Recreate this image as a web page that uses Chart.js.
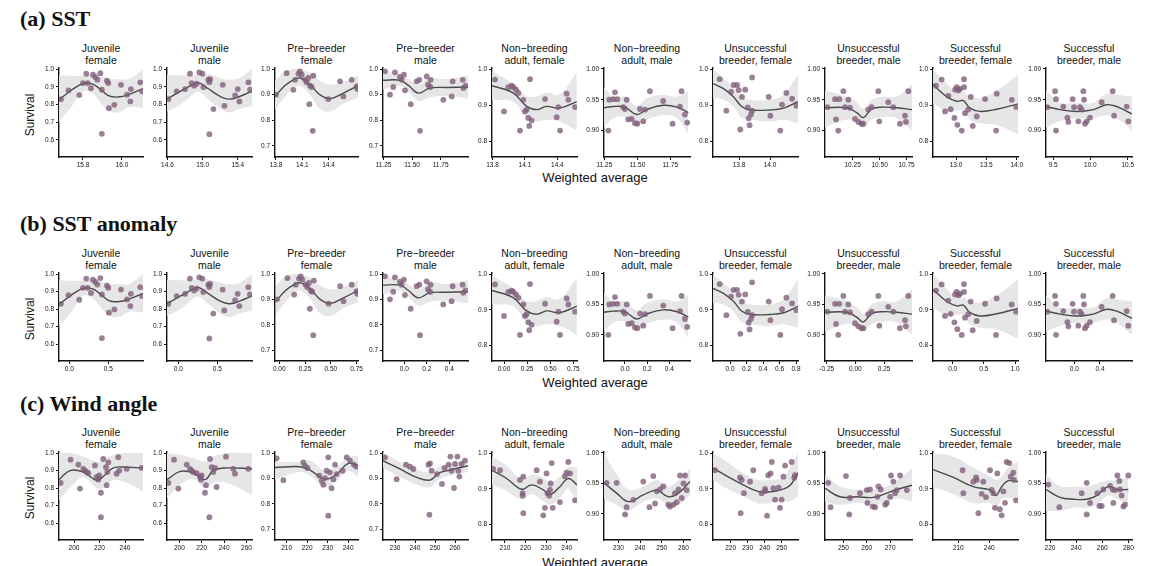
<!DOCTYPE html>
<html><head><meta charset="utf-8">
<script src="https://cdn.jsdelivr.net/npm/chart.js@4.4.1/dist/chart.umd.min.js"></script>
<style>
body{margin:0;background:#fff;width:1150px;height:566px;overflow:hidden;position:relative;font-family:"Liberation Sans",Arial,sans-serif;}
.sec{position:absolute;left:20px;font-family:"Liberation Serif","Times New Roman",serif;font-weight:bold;font-size:22px;line-height:22px;color:#111;white-space:nowrap;}
.pt{position:absolute;text-align:center;font-size:10.5px;line-height:11.5px;color:#111;white-space:nowrap;}
.xl{position:absolute;font-size:13px;line-height:13px;color:#111;width:200px;text-align:center;white-space:nowrap;}
.yl{position:absolute;font-size:12px;line-height:12px;color:#111;transform:rotate(-90deg);width:60px;text-align:center;}
canvas{position:absolute;}
</style></head><body>
<script>
// ---------- text ----------
const SECTIONS = ["(a) SST", "(b) SST anomaly", "(c) Wind angle"];
const TITLES = [["Juvenile","female"],["Juvenile","male"],["Pre\u2212breeder","female"],["Pre\u2212breeder","male"],
  ["Non\u2212breeding","adult, female"],["Non\u2212breeding","adult, male"],["Unsuccessful","breeder, female"],
  ["Unsuccessful","breeder, male"],["Successful","breeder, female"],["Successful","breeder, male"]];
const X_TITLE = "Weighted average";
const Y_TITLE = "Survival";

// ---------- y axes (per column) ----------
const yRange = [[0.503,1.006],[0.503,1.006],[0.657,1.004],[0.657,1.004],[0.757,1.003],[0.857,1.0016],[0.757,1.003],[0.857,1.0016],[0.757,1.003],[0.857,1.0016]];
const yTicks = [[0.6,0.7,0.8,0.9,1.0],[0.6,0.7,0.8,0.9,1.0],[0.7,0.8,0.9,1.0],[0.7,0.8,0.9,1.0],[0.8,0.9,1.0],[0.90,0.95,1.00],[0.8,0.9,1.0],[0.90,0.95,1.00],[0.8,0.9,1.0],[0.90,0.95,1.00]];
const yTickLabels = [["0.6","0.7","0.8","0.9","1.0"],["0.6","0.7","0.8","0.9","1.0"],["0.7","0.8","0.9","1.0"],["0.7","0.8","0.9","1.0"],["0.8","0.9","1.0"],["0.90","0.95","1.00"],["0.8","0.9","1.0"],["0.90","0.95","1.00"],["0.8","0.9","1.0"],["0.90","0.95","1.00"]];

// ---------- x axes ----------
const sstRange = [[15.677,16.108],[14.595,15.56],[13.789,14.737],[11.245,11.99],[13.795,14.582],[11.247,11.899],[13.632,14.18],[9.994,10.80],[12.621,14.02],[9.406,10.557]];
const sstTicks = [[15.8,16.0],[14.6,15.0,15.4],[13.8,14.1,14.4],[11.25,11.5,11.75],[13.8,14.1,14.4],[11.25,11.5,11.75],[13.8,14.0],[10.25,10.5,10.75],[13.0,13.5,14.0],[9.5,10.0,10.5]];
const sstTickLabels = [["15.8","16.0"],["14.6","15.0","15.4"],["13.8","14.1","14.4"],["11.25","11.50","11.75"],["13.8","14.1","14.4"],["11.25","11.50","11.75"],["13.8","14.0"],["10.25","10.50","10.75"],["13.0","13.5","14.0"],["9.5","10.0","10.5"]];
const anomRange = [[-0.132,0.945],[-0.145,0.945],[-0.041,0.764],[-0.19,0.566],[-0.13,0.79],[-0.189,0.586],[-0.206,0.824],[-0.265,0.494],[-0.316,1.048],[-0.441,0.899]];
const anomTicks = [[0,0.5],[0,0.5],[0,0.25,0.5,0.75],[0,0.2,0.4],[0,0.25,0.5,0.75],[0,0.2,0.4],[0,0.2,0.4,0.6,0.8],[-0.25,0,0.25],[0,0.5,1.0],[0,0.4]];
const anomTickLabels = [["0.0","0.5"],["0.0","0.5"],["0.00","0.25","0.50","0.75"],["0.0","0.2","0.4"],["0.00","0.25","0.50","0.75"],["0.0","0.2","0.4"],["0.0","0.2","0.4","0.6","0.8"],["-0.25","0.00","0.25"],["0.0","0.5","1.0"],["0.0","0.4"]];
const windRange = [[188.2,254.1],[189,264.9],[204.3,244.8],[224,266.5],[203.7,245.0],[223.4,263.0],[209.6,259.6],[242.1,279.4],[185.5,267.8],[216.9,282.8]];
const windTicks = [[200,220,240],[200,220,240,260],[210,220,230,240],[230,240,250,260],[210,220,230,240],[230,240,250,260],[220,230,240,250],[250,260,270],[210,240],[220,240,260,280]];

// ---------- survival estimates (rows a & b share the same estimates) ----------
const surv1 = [0.83,0.879,0.853,0.921,0.974,0.921,0.892,0.968,0.955,0.94,0.977,0.883,0.934,0.921,0.779,0.798,0.634,0.911,0.855,0.887,0.817,0.925,0.874];
const surv2 = [0.83,0.874,0.887,0.974,0.921,0.906,0.917,0.981,0.974,0.898,0.94,0.926,0.943,0.632,0.774,0.911,0.792,0.851,0.887,0.817,0.925,0.883];
const surv3 = [0.90,0.984,0.919,0.958,0.982,0.991,0.978,0.958,0.948,0.965,0.935,0.93,0.974,0.863,0.759,0.883,0.952,0.893,0.958,0.932,0.922];
const surv4 = [0.991,0.90,0.93,0.987,0.969,0.958,0.978,0.917,0.863,0.952,0.958,0.759,0.971,0.939,0.93,0.958,0.88,0.893,0.952,0.958,0.926,0.935];
const surv5 = [0.971,0.883,0.95,0.954,0.95,0.943,0.934,0.83,0.915,0.883,0.888,0.865,0.843,0.972,0.858,0.917,0.867,0.895,0.83,0.932,0.915,0.895];
const surv6 = [0.90,0.95,0.951,0.962,0.951,0.938,0.935,0.95,0.918,0.919,0.912,0.911,0.935,0.915,0.934,0.964,0.948,0.911,0.939,0.964,0.926,0.913];
const surv7 = [0.972,0.885,0.937,0.956,0.956,0.942,0.923,0.833,0.943,0.894,0.864,0.845,0.977,0.885,0.875,0.923,0.871,0.83,0.934,0.902,0.918,0.899];
const surv8 = [0.938,0.951,0.918,0.90,0.951,0.964,0.938,0.95,0.937,0.919,0.914,0.911,0.911,0.934,0.938,0.964,0.915,0.946,0.938,0.911,0.924,0.914,0.964];
const surv9 = [0.954,0.971,0.883,0.926,0.889,0.865,0.943,0.95,0.846,0.941,0.945,0.83,0.972,0.95,0.878,0.888,0.923,0.843,0.869,0.917,0.932,0.83,0.915,0.895];
const surv10 = [0.938,0.964,0.951,0.90,0.939,0.921,0.914,0.951,0.938,0.915,0.938,0.934,0.964,0.95,0.911,0.915,0.921,0.946,0.964,0.924,0.939,0.915];

// row (a) SST covariate
const sstX1 = [15.687,15.726,15.781,15.80,15.817,15.824,15.841,15.851,15.863,15.874,15.889,15.897,15.923,15.93,15.933,15.961,15.897,15.995,16.026,16.046,16.043,16.094,16.103];
const sstX2 = [14.61,14.705,14.80,14.856,14.875,14.902,14.932,14.962,14.997,15.008,15.065,15.076,15.084,15.076,15.122,15.228,15.247,15.368,15.398,15.417,15.519,15.538];
const sstX3 = [13.80,13.922,13.999,14.018,14.056,14.075,14.094,14.132,14.151,14.17,14.189,14.208,14.227,14.181,14.22,14.398,14.532,14.57,14.665,14.722,14.73];
const sstX4 = [11.263,11.306,11.335,11.35,11.394,11.409,11.429,11.438,11.488,11.54,11.564,11.57,11.628,11.64,11.66,11.663,11.774,11.847,11.856,11.944,11.95,11.97];
const sstX5 = [13.823,13.906,13.946,13.977,13.993,14.017,14.039,14.054,14.085,14.10,14.116,14.131,14.14,14.147,14.162,14.286,14.394,14.409,14.425,14.486,14.502,14.564];
const sstX6 = [11.28,11.287,11.318,11.33,11.348,11.393,11.406,11.419,11.431,11.457,11.482,11.50,11.52,11.545,11.558,11.595,11.696,11.767,11.823,11.835,11.86,11.878];
const sstX7 = [13.675,13.718,13.748,13.765,13.787,13.798,13.819,13.808,13.84,13.856,13.862,13.868,13.884,13.884,13.877,13.991,14.002,14.066,14.105,14.077,14.142,14.17];
const sstX8 = [10.016,10.087,10.096,10.117,10.127,10.164,10.179,10.21,10.225,10.272,10.303,10.333,10.349,10.395,10.426,10.488,10.497,10.58,10.627,10.688,10.735,10.744,10.766];
const sstX9 = [12.67,12.764,12.819,12.874,12.912,12.973,12.984,13.011,13.022,13.039,13.066,13.094,13.132,13.132,13.148,13.2,13.242,13.275,13.341,13.478,13.67,13.66,13.918,13.99];
const sstX10 = [9.424,9.527,9.54,9.54,9.638,9.692,9.705,9.763,9.781,9.839,9.861,9.884,9.906,9.915,9.928,9.951,9.995,10.151,10.299,10.317,10.486,10.508];

// row (b) SST anomaly covariate
const anomX1 = [-0.107,-0.01,0.128,0.176,0.218,0.236,0.278,0.303,0.333,0.36,0.398,0.418,0.483,0.50,0.508,0.578,0.418,0.663,0.74,0.79,0.783,0.91,0.933];
const anomX2 = [-0.128,-0.021,0.086,0.149,0.171,0.201,0.235,0.269,0.308,0.321,0.385,0.398,0.407,0.398,0.449,0.569,0.59,0.727,0.761,0.782,0.897,0.919];
const anomX3 = [-0.022,0.08,0.145,0.161,0.192,0.208,0.224,0.256,0.272,0.288,0.304,0.32,0.336,0.297,0.33,0.479,0.591,0.623,0.703,0.75,0.757];
const anomX4 = [-0.172,-0.128,-0.099,-0.084,-0.039,-0.024,-0.004,0.005,0.056,0.109,0.133,0.139,0.198,0.21,0.23,0.233,0.346,0.42,0.429,0.518,0.524,0.544];
const anomX5 = [-0.097,0.0,0.047,0.083,0.101,0.13,0.155,0.173,0.209,0.227,0.245,0.263,0.273,0.281,0.299,0.444,0.57,0.588,0.606,0.678,0.696,0.769];
const anomX6 = [-0.15,-0.141,-0.105,-0.09,-0.069,-0.015,0.0,0.016,0.03,0.061,0.09,0.112,0.136,0.165,0.181,0.225,0.345,0.429,0.496,0.51,0.54,0.561];
const anomX7 = [-0.125,-0.044,0.012,0.044,0.085,0.106,0.145,0.125,0.185,0.215,0.226,0.237,0.268,0.268,0.254,0.469,0.489,0.61,0.683,0.63,0.752,0.805];
const anomX8 = [-0.244,-0.177,-0.169,-0.149,-0.14,-0.105,-0.091,-0.062,-0.047,-0.003,0.026,0.054,0.069,0.113,0.142,0.20,0.209,0.287,0.331,0.388,0.433,0.441,0.462];
const anomX9 = [-0.268,-0.177,-0.123,-0.07,-0.033,0.027,0.038,0.064,0.075,0.091,0.117,0.145,0.182,0.182,0.197,0.248,0.289,0.321,0.385,0.519,0.706,0.696,0.947,1.017];
const anomX10 = [-0.42,-0.30,-0.285,-0.285,-0.171,-0.108,-0.093,-0.026,-0.005,0.063,0.088,0.115,0.141,0.151,0.166,0.193,0.244,0.426,0.598,0.619,0.816,0.841];

// row (c) wind angle covariate and survival
const windX1 = [189.5,197.3,204.7,203.4,207.3,208.6,209.9,211.2,216.4,217.7,219.0,219.8,221.1,221.1,222.9,225.1,225.6,226.1,226.9,233.4,234.7,235.5,241.3,253.0];
const survW1 = [0.829,0.962,0.797,0.934,0.91,0.90,0.891,0.885,0.929,0.863,0.848,0.872,0.773,0.633,0.966,0.919,0.816,0.891,0.947,0.882,0.976,0.90,0.91,0.915];
const windX2 = [190.2,195.3,199.1,206.6,209.5,211.0,212.5,215.5,218.5,219.4,220.0,222.9,226.8,227.4,223.8,228.9,230.4,231.9,233.3,241.7,248.2,249.7,261.6];
const survW2 = [0.829,0.962,0.797,0.934,0.91,0.90,0.891,0.885,0.863,0.848,0.872,0.773,0.633,0.966,0.816,0.919,0.891,0.915,0.806,0.979,0.91,0.882,0.91];
const windX3 = [205.1,208.4,218.1,218.9,220.1,225.9,227.1,227.9,228.7,229.5,230.3,230.3,231.1,231.9,232.8,233.6,234.4,237.3,239.3,240.9,242.8,244.1];
const survW3 = [0.979,0.893,0.963,0.95,0.941,0.911,0.891,0.875,0.901,0.93,0.983,0.753,0.924,0.861,0.897,0.954,0.917,0.93,0.983,0.97,0.954,0.946];
const windX4 = [225,230.8,235.5,237.5,239.2,246.7,247.5,247.2,248.3,251,253.5,254.8,256.8,257.7,258.3,259.5,260,261.2,261.7,262.2,263.3,265];
const survW4 = [0.983,0.897,0.954,0.946,0.937,0.954,0.959,0.757,0.93,0.917,0.878,0.941,0.954,0.986,0.93,0.862,0.957,0.986,0.93,0.907,0.957,0.97];
const windX5 = [204.3,207.6,217.3,218.9,218.6,218.6,218.9,225.4,227.0,228.6,229.4,230.2,230.7,231.5,231.9,232.2,232.7,233.2,236.7,239.1,239.9,240.8,241.6,244];
const survW5 = [0.956,0.952,0.925,0.934,0.888,0.881,0.832,0.952,0.92,0.826,0.847,0.943,0.888,0.881,0.897,0.915,0.972,0.847,0.863,0.935,0.945,0.975,0.943,0.868];
const windX6 = [224.6,229.2,233.8,233.1,236.9,241.5,244.3,246.1,246.9,247.7,249.2,250.7,253,253.8,255.3,256.1,256.9,257.7,258.4,259.2,260,260.7,261.5];
const survW6 = [0.951,0.951,0.911,0.899,0.923,0.953,0.911,0.962,0.917,0.937,0.94,0.945,0.915,0.912,0.915,0.934,0.919,0.94,0.963,0.926,0.95,0.963,0.939];
const windX7 = [210.8,225.5,226.5,227.8,225.9,231.4,233.3,238.2,240.2,242.1,241.4,244.2,243.5,245.1,246.1,251,252,250,249,255.9,257.8,240.4,248.2,257.4];
const survW7 = [0.952,0.932,0.925,0.888,0.832,0.92,0.952,0.888,0.90,0.938,0.825,0.975,0.943,0.902,0.87,0.934,0.965,0.87,0.847,0.975,0.938,0.894,0.903,0.931];
const windX8 = [243.5,244.5,251.1,252.5,252.8,257.1,260.3,260,261.4,262.6,263.6,265,264.6,266,267.9,268.6,270,270.4,271.4,272.1,272.9,274.3,277.2];
const survW8 = [0.951,0.911,0.962,0.899,0.926,0.934,0.918,0.939,0.94,0.912,0.911,0.945,0.928,0.94,0.915,0.918,0.928,0.963,0.953,0.934,0.939,0.963,0.939];
const windX9 = [214.2,214.9,224.5,227.1,227.8,229.4,232.6,234.2,236.8,240.7,242.3,243.9,245.5,247.8,250.3,252,253.6,255.2,256.8,259.4,260.7,263.2,263.9,265.8];
const survW9 = [0.952,0.888,0.92,0.932,0.925,0.832,0.886,0.92,0.877,0.952,0.897,0.888,0.847,0.943,0.843,0.826,0.893,0.861,0.975,0.972,0.934,0.945,0.925,0.868];
const windX10 = [218.7,227.1,244.2,248.1,248.1,250.6,256.2,257.8,259.6,260.8,266,268,268.5,269.8,271.6,273.1,273.6,274.9,276.2,277.4,280];
const survW10 = [0.948,0.911,0.934,0.951,0.899,0.918,0.934,0.913,0.913,0.94,0.946,0.94,0.918,0.939,0.963,0.954,0.94,0.93,0.912,0.915,0.963];

// ---------- smooth fits with confidence bands ----------
const knotA1=[15.677,15.74,15.8,15.85,15.89,15.93,15.98,16.04,16.108], knotB1=[-0.132,0.026,0.176,0.30,0.40,0.50,0.626,0.776,0.946];
const fit1=[0.826,0.88,0.918,0.915,0.885,0.85,0.842,0.858,0.89], hi1=[0.965,0.962,0.962,0.966,0.96,0.945,0.942,0.945,1.0], lo1=[0.70,0.785,0.875,0.86,0.81,0.765,0.755,0.785,0.78];
const knotA2=[14.595,14.75,14.9,14.96,15.06,15.2,15.3,15.42,15.56], knotB2=[-0.145,0.03,0.198,0.267,0.38,0.538,0.65,0.786,0.944];
const fit2=[0.83,0.875,0.915,0.922,0.89,0.845,0.83,0.845,0.875], hi2=[0.968,0.965,0.965,0.968,0.97,0.95,0.94,0.95,1.0], lo2=[0.76,0.80,0.86,0.87,0.83,0.775,0.755,0.775,0.79];
const knotA3=[13.789,13.9,14.0,14.075,14.19,14.3,14.418,14.57,14.737], knotB3=[-0.031,0.062,0.146,0.208,0.305,0.397,0.496,0.623,0.763];
const fit3=[0.893,0.935,0.958,0.965,0.939,0.90,0.884,0.906,0.935], hi3=[0.955,0.99,1.0,1.0,0.985,0.955,0.94,0.95,0.975], lo3=[0.84,0.89,0.925,0.935,0.9,0.845,0.835,0.865,0.89];
const knotA4=[11.245,11.394,11.47,11.555,11.657,11.80,11.99], knotB4=[-0.19,-0.039,0.037,0.124,0.227,0.372,0.565];
const fit4=[0.956,0.956,0.935,0.906,0.926,0.928,0.93], hi4=[0.99,0.98,0.96,0.94,0.965,0.96,0.975], lo4=[0.92,0.935,0.91,0.875,0.89,0.895,0.885];
const knotA5=[13.795,13.99,14.116,14.21,14.3,14.42,14.58], knotB5=[-0.13,0.098,0.245,0.355,0.46,0.601,0.788];
const fit5=[0.954,0.934,0.897,0.888,0.897,0.892,0.91], hi5=[0.995,0.96,0.925,0.925,0.935,0.93,0.99], lo5=[0.915,0.91,0.865,0.855,0.86,0.855,0.83];
const knotA6=[11.247,11.318,11.406,11.495,11.57,11.696,11.80,11.886], knotB6=[-0.189,-0.105,0.0,0.106,0.195,0.345,0.469,0.571];
const fit6=[0.937,0.939,0.938,0.926,0.934,0.941,0.938,0.929], hi6=[0.97,0.955,0.955,0.94,0.952,0.958,0.955,0.965], lo6=[0.905,0.92,0.922,0.91,0.918,0.925,0.92,0.895];
const knotA7=[13.632,13.70,13.765,13.819,13.873,14.0,14.088,14.18], knotB7=[-0.206,-0.078,0.044,0.145,0.247,0.485,0.651,0.824];
const fit7=[0.96,0.946,0.923,0.896,0.887,0.887,0.892,0.91], hi7=[1.0,0.975,0.95,0.925,0.915,0.915,0.93,0.985], lo7=[0.92,0.915,0.895,0.865,0.86,0.855,0.86,0.85];
const knotA8=[9.994,10.195,10.288,10.349,10.426,10.534,10.658,10.80], knotB8=[-0.265,-0.076,0.012,0.069,0.142,0.243,0.36,0.494];
const fit8=[0.937,0.937,0.929,0.921,0.935,0.938,0.937,0.934], hi8=[0.965,0.955,0.945,0.935,0.95,0.955,0.955,0.975], lo8=[0.905,0.918,0.912,0.905,0.918,0.922,0.92,0.9];
const knotA9=[12.621,12.846,13.011,13.121,13.23,13.396,13.67,14.02], knotB9=[-0.316,-0.097,0.064,0.171,0.277,0.439,0.706,1.047];
const fit9=[0.957,0.924,0.911,0.913,0.892,0.883,0.889,0.904], hi9=[1.0,0.96,0.935,0.935,0.925,0.92,0.94,0.985], lo9=[0.905,0.885,0.885,0.885,0.86,0.85,0.845,0.82];
const knotA10=[9.406,9.594,9.817,10.04,10.219,10.352,10.557], knotB10=[-0.441,-0.222,0.037,0.297,0.505,0.66,0.899];
const fit10=[0.939,0.934,0.931,0.934,0.942,0.939,0.927], hi10=[0.965,0.945,0.945,0.945,0.96,0.958,0.955], lo10=[0.905,0.915,0.92,0.92,0.925,0.92,0.9];

const knotC1=[188.2,196.8,207.3,217.7,222.9,230.8,241.3,254.1];
const fitW1=[0.848,0.90,0.891,0.844,0.866,0.915,0.919,0.915], hiW1=[1.0,1.0,0.98,0.95,0.96,0.99,1.0,1.0], loW1=[0.73,0.80,0.86,0.80,0.80,0.845,0.83,0.78];
const knotC2=[189,200.9,212.5,222.9,230.4,242.3,264.9];
const fitW2=[0.848,0.895,0.887,0.848,0.90,0.915,0.91], hiW2=[1.0,0.99,0.97,0.95,0.98,1.0,1.0], loW2=[0.74,0.82,0.85,0.80,0.83,0.83,0.76];
const knotC3=[204.3,216.5,221.4,228.7,234.4,240.1,244.8];
const fitW3=[0.943,0.946,0.933,0.897,0.917,0.959,0.95], hiW3=[0.965,0.965,0.97,0.93,0.945,0.985,0.99], loW3=[0.895,0.925,0.91,0.865,0.89,0.93,0.905];
const knotC4=[224,232.5,240.8,247.5,251.7,257.5,266.5];
const fitW4=[0.97,0.937,0.904,0.893,0.92,0.933,0.95], hiW4=[1.0,0.965,0.935,0.925,0.945,0.955,0.975], loW4=[0.94,0.905,0.875,0.865,0.895,0.91,0.925];
const knotC5=[203.7,210.8,218.1,223,228.6,231.9,236.7,240.8,245];
const fitW5=[0.952,0.929,0.899,0.911,0.897,0.884,0.906,0.929,0.911], hiW5=[0.99,0.965,0.925,0.94,0.93,0.915,0.935,0.96,0.96], loW5=[0.91,0.895,0.87,0.885,0.865,0.855,0.875,0.9,0.855];
const knotC6=[223.4,229.2,234.6,241.5,247.7,253,257.7,263];
const fitW6=[0.951,0.934,0.92,0.931,0.939,0.928,0.934,0.953], hiW6=[1.0,0.965,0.94,0.945,0.955,0.945,0.955,0.975], loW6=[0.925,0.915,0.905,0.92,0.925,0.915,0.915,0.93];
const knotC7=[209.6,218,227,236,242,250,255,259.6];
const fitW7=[0.958,0.935,0.912,0.893,0.891,0.898,0.91,0.945], hiW7=[1.0,0.975,0.945,0.925,0.925,0.93,0.96,1.0], loW7=[0.925,0.9,0.88,0.86,0.86,0.865,0.865,0.88];
const knotC8=[242.1,248.5,255.7,262.8,268.6,272.9,279.4];
const fitW8=[0.942,0.928,0.928,0.927,0.934,0.94,0.947], hiW8=[0.965,0.945,0.94,0.94,0.945,0.955,0.975], loW8=[0.92,0.915,0.918,0.915,0.92,0.925,0.92];
const knotC9=[185.5,205.2,224.5,240.7,246.5,252,258.4,267.8];
const fitW9=[0.954,0.932,0.906,0.897,0.881,0.906,0.923,0.92], hiW9=[1.0,0.99,0.96,0.935,0.925,0.935,0.96,0.975], loW9=[0.905,0.885,0.86,0.86,0.845,0.87,0.875,0.865];
const knotC10=[216.9,227.6,237.8,248.1,255.7,264.7,271.1,280];
const fitW10=[0.94,0.927,0.924,0.924,0.93,0.945,0.94,0.94], hiW10=[0.965,0.945,0.945,0.945,0.95,0.955,0.955,0.96], loW10=[0.905,0.905,0.91,0.91,0.915,0.93,0.925,0.915];

// ---------- layout ----------
const PLOT_L=[59,167,275,383,492,604,713,825,933,1046];
const PLOT_W=[84,85,83,85,85,86,85,87,85,86];
const ROW_T=[68,273,452], ROW_H=[89,88,88];
const SEC_T=[7.5,213,392.5], XT_T=[171,376,556];
const PT_COL='rgba(125,92,122,0.78)';

const panels=[];
const S=[surv1,surv2,surv3,surv4,surv5,surv6,surv7,surv8,surv9,surv10];
const SX=[sstX1,sstX2,sstX3,sstX4,sstX5,sstX6,sstX7,sstX8,sstX9,sstX10];
const AX=[anomX1,anomX2,anomX3,anomX4,anomX5,anomX6,anomX7,anomX8,anomX9,anomX10];
const WX=[windX1,windX2,windX3,windX4,windX5,windX6,windX7,windX8,windX9,windX10];
const WY=[survW1,survW2,survW3,survW4,survW5,survW6,survW7,survW8,survW9,survW10];
const KA=[knotA1,knotA2,knotA3,knotA4,knotA5,knotA6,knotA7,knotA8,knotA9,knotA10];
const KB=[knotB1,knotB2,knotB3,knotB4,knotB5,knotB6,knotB7,knotB8,knotB9,knotB10];
const KC=[knotC1,knotC2,knotC3,knotC4,knotC5,knotC6,knotC7,knotC8,knotC9,knotC10];
const F=[fit1,fit2,fit3,fit4,fit5,fit6,fit7,fit8,fit9,fit10], H=[hi1,hi2,hi3,hi4,hi5,hi6,hi7,hi8,hi9,hi10], Lo=[lo1,lo2,lo3,lo4,lo5,lo6,lo7,lo8,lo9,lo10];
const FW=[fitW1,fitW2,fitW3,fitW4,fitW5,fitW6,fitW7,fitW8,fitW9,fitW10], HW=[hiW1,hiW2,hiW3,hiW4,hiW5,hiW6,hiW7,hiW8,hiW9,hiW10], LW=[loW1,loW2,loW3,loW4,loW5,loW6,loW7,loW8,loW9,loW10];
for(let c=0;c<10;c++){
  panels.push({row:0,col:c,px:SX[c],py:S[c],kx:KA[c],fit:F[c],hi:H[c],lo:Lo[c],xr:sstRange[c],xt:sstTicks[c],xl:sstTickLabels[c]});
  panels.push({row:1,col:c,px:AX[c],py:S[c],kx:KB[c],fit:F[c],hi:H[c],lo:Lo[c],xr:anomRange[c],xt:anomTicks[c],xl:anomTickLabels[c]});
  panels.push({row:2,col:c,px:WX[c],py:WY[c],kx:KC[c],fit:FW[c],hi:HW[c],lo:LW[c],xr:windRange[c],xt:windTicks[c],xl:windTicks[c].map(String)});
}

function addDiv(cls, html, left, top, width){
  const d=document.createElement('div'); d.className=cls; d.innerHTML=html;
  d.style.left=left+'px'; d.style.top=top+'px'; if(width!=null) d.style.width=width+'px';
  document.body.appendChild(d); return d;
}
for(let r=0;r<3;r++){
  addDiv('sec', SECTIONS[r], 20, SEC_T[r]);
  addDiv('xl', X_TITLE, 495, XT_T[r]);
  addDiv('yl', Y_TITLE, 0, ROW_T[r]+ROW_H[r]/2+2-6);
  for(let c=0;c<10;c++) addDiv('pt', TITLES[c][0]+'<br>'+TITLES[c][1], PLOT_L[c], ROW_T[r]-25, PLOT_W[c]);
}

const tickFont={size:6.5,family:'"Liberation Sans", Arial, sans-serif'};
function makePanel(p){
  const L=PLOT_L[p.col], W=PLOT_W[p.col], T=ROW_T[p.row], Hh=ROW_H[p.row];
  const padL=28,padT=6,padR=14,padB=18;
  const cv=document.createElement('canvas');
  cv.width=W+padL+padR; cv.height=Hh+padT+padB;
  cv.style.left=(L-padL)+'px'; cv.style.top=(T-padT)+'px';
  cv.style.width=cv.width+'px'; cv.style.height=cv.height+'px';
  document.body.appendChild(cv);
  const pts=p.px.map((x,i)=>({x:x,y:p.py[i]}));
  const line=p.kx.map((x,i)=>({x:x,y:p.fit[i]}));
  const hi=p.kx.map((x,i)=>({x:x,y:p.hi[i]}));
  const lo=p.kx.map((x,i)=>({x:x,y:p.lo[i]}));
  const yr=yRange[p.col], yt=yTicks[p.col], yl=yTickLabels[p.col];
  new Chart(cv,{type:'scatter',data:{datasets:[
    {data:pts,showLine:false,pointRadius:2.9,pointHoverRadius:2.9,pointBackgroundColor:PT_COL,pointBorderWidth:0,pointStyle:'circle'},
    {data:line,showLine:true,borderColor:'#4a4a4a',borderWidth:1.4,pointRadius:0,tension:0.4,fill:false},
    {data:hi,showLine:true,borderColor:'rgba(0,0,0,0)',borderWidth:0.01,pointRadius:0,tension:0.4,fill:'+1',backgroundColor:'#e6e6e6'},
    {data:lo,showLine:true,borderColor:'rgba(0,0,0,0)',borderWidth:0.01,pointRadius:0,tension:0.4,fill:false}
  ]},options:{responsive:false,animation:false,devicePixelRatio:1,
    layout:{padding:{left:0,top:padT,right:padR,bottom:0}},
    plugins:{legend:{display:false},tooltip:{enabled:false},title:{display:false}},
    scales:{
      x:{type:'linear',min:p.xr[0],max:p.xr[1],
        afterBuildTicks:s=>{s.ticks=p.xt.map(v=>({value:v}));},
        afterFit:s=>{s.height=padB;s.paddingLeft=0;s.paddingRight=0;},
        ticks:{autoSkip:false,maxRotation:0,minRotation:0,padding:1,font:tickFont,color:'#111',callback:(v,i)=>p.xl[i]},
        grid:{display:true,drawOnChartArea:false,drawTicks:true,tickLength:3,color:'#111',lineWidth:1},
        border:{display:true,color:'#111',width:1.4}},
      y:{type:'linear',min:yr[0],max:yr[1],
        afterBuildTicks:s=>{s.ticks=yt.map(v=>({value:v}));},
        afterFit:s=>{s.width=padL;s.paddingTop=0;s.paddingBottom=0;},
        ticks:{autoSkip:false,padding:2,font:tickFont,color:'#111',callback:(v,i)=>yl[i]},
        grid:{display:true,drawOnChartArea:false,drawTicks:true,tickLength:3,color:'#111',lineWidth:1},
        border:{display:true,color:'#111',width:1.4}}
    }}});
}
panels.forEach(makePanel);
</script></body></html>
